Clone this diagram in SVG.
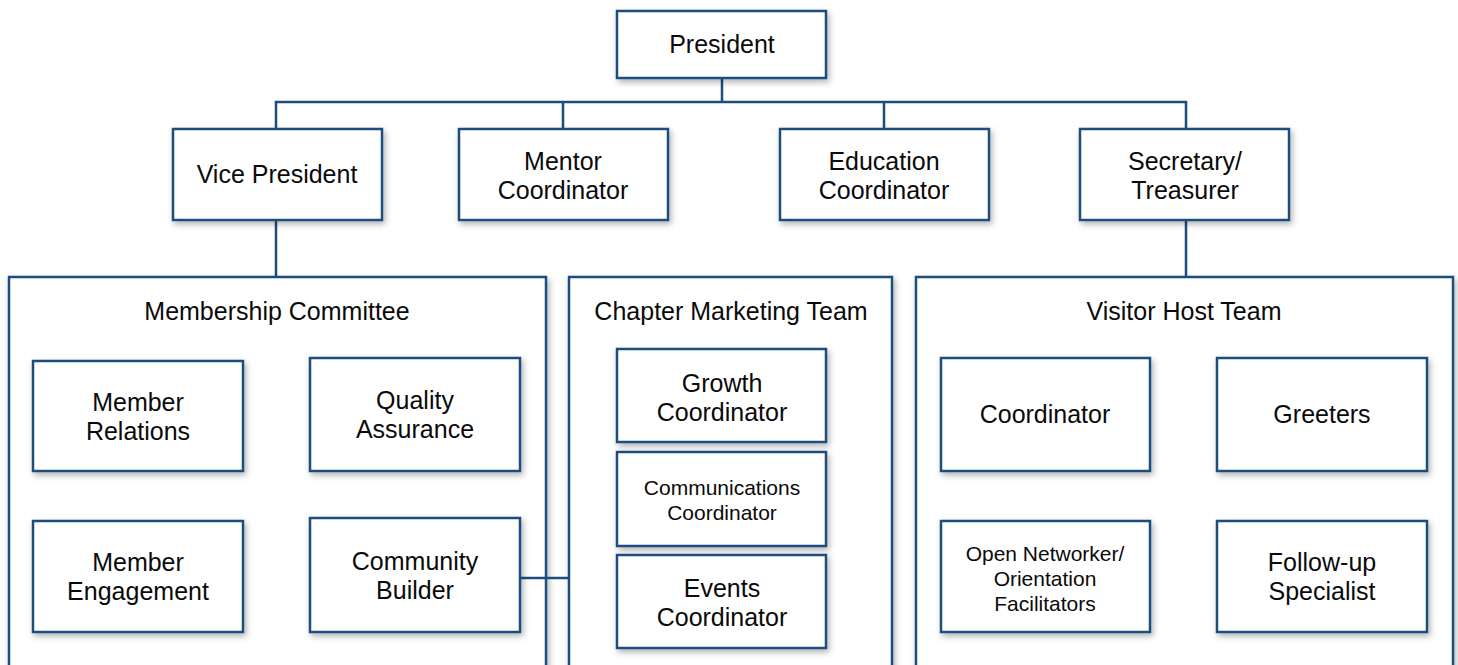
<svg xmlns="http://www.w3.org/2000/svg" width="1458" height="665" viewBox="0 0 1458 665">
  <style>
    .box { fill: #ffffff; stroke: #1d4d7e; stroke-width: 2.5; filter: url(#shadow); }
    .link { fill: none; stroke: #1d4d7e; stroke-width: 2.5; }
    text { font-family: "Liberation Sans", Arial, Helvetica, sans-serif; fill: #0a0a0a; text-anchor: middle; dominant-baseline: central; }
    .t { font-size: 25px; }
    .s { font-size: 21px; }
  </style>
  <defs>
    <filter id="shadow" x="-10%" y="-10%" width="125%" height="130%">
      <feDropShadow dx="2" dy="3" stdDeviation="3" flood-color="#000000" flood-opacity="0.3"/>
    </filter>
  </defs>
  <rect width="1458" height="665" fill="#ffffff"/>

  <!-- team panels -->
  <g id="membership-committee">
    <rect class="box" x="9" y="277" width="537" height="430"/>
    <text class="t" x="277" y="311">Membership Committee</text>
  </g>
  <g id="chapter-marketing-team">
    <rect class="box" x="569" y="277" width="323" height="430"/>
    <text class="t" x="731" y="311">Chapter Marketing Team</text>
  </g>
  <g id="visitor-host-team">
    <rect class="box" x="916" y="277" width="537" height="430"/>
    <text class="t" x="1184" y="311">Visitor Host Team</text>
  </g>

  <!-- connectors -->
  <g id="connectors">
    <path class="link" d="M722 78 V102 M276 129 V102 H1186 V129 M563 102 V129 M884 102 V129"/>
    <path class="link" d="M276 220 V277"/>
    <path class="link" d="M1186 220 V277"/>
    <path class="link" d="M520 578 H569"/>
  </g>

  <!-- leadership -->
  <g id="president">
    <rect class="box" x="617" y="11" width="209" height="67"/>
    <text class="t" x="722" y="44">President</text>
  </g>
  <g id="vice-president">
    <rect class="box" x="173" y="129" width="209" height="91"/>
    <text class="t" x="277" y="174">Vice President</text>
  </g>
  <g id="mentor-coordinator">
    <rect class="box" x="459" y="129" width="209" height="91"/>
    <text class="t" x="563" y="161">Mentor</text>
    <text class="t" x="563" y="190">Coordinator</text>
  </g>
  <g id="education-coordinator">
    <rect class="box" x="780" y="129" width="209" height="91"/>
    <text class="t" x="884" y="161">Education</text>
    <text class="t" x="884" y="190">Coordinator</text>
  </g>
  <g id="secretary-treasurer">
    <rect class="box" x="1080" y="129" width="209" height="91"/>
    <text class="t" x="1185" y="161">Secretary/</text>
    <text class="t" x="1185" y="190">Treasurer</text>
  </g>

  <!-- membership committee roles -->
  <g id="member-relations">
    <rect class="box" x="33" y="361" width="210" height="110"/>
    <text class="t" x="138" y="402">Member</text>
    <text class="t" x="138" y="431">Relations</text>
  </g>
  <g id="quality-assurance">
    <rect class="box" x="310" y="358" width="210" height="113"/>
    <text class="t" x="415" y="400">Quality</text>
    <text class="t" x="415" y="429">Assurance</text>
  </g>
  <g id="member-engagement">
    <rect class="box" x="33" y="521" width="210" height="111"/>
    <text class="t" x="138" y="562">Member</text>
    <text class="t" x="138" y="591">Engagement</text>
  </g>
  <g id="community-builder">
    <rect class="box" x="310" y="518" width="210" height="114"/>
    <text class="t" x="415" y="561">Community</text>
    <text class="t" x="415" y="590">Builder</text>
  </g>

  <!-- chapter marketing roles -->
  <g id="growth-coordinator">
    <rect class="box" x="617" y="349" width="209" height="93"/>
    <text class="t" x="722" y="383">Growth</text>
    <text class="t" x="722" y="412">Coordinator</text>
  </g>
  <g id="communications-coordinator">
    <rect class="box" x="617" y="452" width="209" height="94"/>
    <text class="s" x="722" y="487">Communications</text>
    <text class="s" x="722" y="512">Coordinator</text>
  </g>
  <g id="events-coordinator">
    <rect class="box" x="617" y="555" width="209" height="93"/>
    <text class="t" x="722" y="588">Events</text>
    <text class="t" x="722" y="617">Coordinator</text>
  </g>

  <!-- visitor host roles -->
  <g id="visitor-coordinator">
    <rect class="box" x="941" y="358" width="209" height="113"/>
    <text class="t" x="1045" y="414">Coordinator</text>
  </g>
  <g id="greeters">
    <rect class="box" x="1217" y="358" width="210" height="113"/>
    <text class="t" x="1322" y="414">Greeters</text>
  </g>
  <g id="open-networker">
    <rect class="box" x="941" y="521" width="209" height="111"/>
    <text class="s" x="1045" y="553">Open Networker/</text>
    <text class="s" x="1045" y="578">Orientation</text>
    <text class="s" x="1045" y="603">Facilitators</text>
  </g>
  <g id="follow-up-specialist">
    <rect class="box" x="1217" y="521" width="210" height="111"/>
    <text class="t" x="1322" y="562">Follow-up</text>
    <text class="t" x="1322" y="591">Specialist</text>
  </g>
</svg>
